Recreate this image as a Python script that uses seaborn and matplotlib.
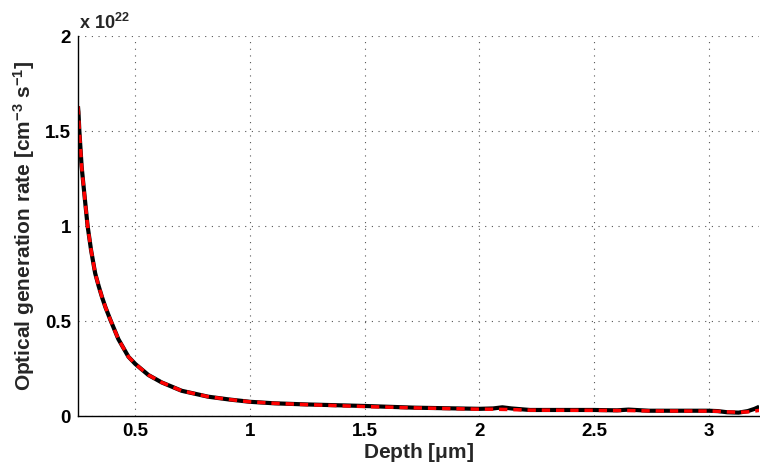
import numpy as np
import pandas as pd
import matplotlib
matplotlib.use("Agg")
import matplotlib.pyplot as plt
from matplotlib.ticker import MultipleLocator
import seaborn as sns

# Depth samples [um] and optical generation rate in units of 1e22 cm^-3 s^-1
depth = [0.250, 0.252, 0.256, 0.266, 0.281, 0.292, 0.307, 0.325, 0.340, 0.355,
         0.370, 0.390, 0.426, 0.470, 0.500, 0.557, 0.615, 0.702, 0.817, 0.910,
         1.000, 1.107, 1.250, 1.500, 1.720, 2.000, 2.060, 2.100, 2.140, 2.220,
         2.500, 2.600, 2.650, 2.740, 3.000, 3.040, 3.080, 3.130, 3.170, 3.200,
         3.220]
rate_full = [1.63, 1.60, 1.50, 1.312, 1.130, 1.00, 0.874, 0.751, 0.685, 0.625,
             0.572, 0.510, 0.405, 0.312, 0.274, 0.216, 0.177, 0.133, 0.102, 0.087,
             0.075, 0.067, 0.061, 0.053, 0.044, 0.038, 0.040, 0.046, 0.040, 0.032,
             0.032, 0.030, 0.034, 0.028, 0.028, 0.026, 0.020, 0.018, 0.026, 0.038,
             0.049]
rate_approx = [1.63, 1.60, 1.50, 1.312, 1.130, 1.00, 0.874, 0.751, 0.685, 0.625,
               0.572, 0.510, 0.405, 0.312, 0.274, 0.216, 0.177, 0.133, 0.102, 0.087,
               0.075, 0.067, 0.060, 0.050, 0.043, 0.036, 0.036, 0.035, 0.034, 0.031,
               0.030, 0.029, 0.029, 0.027, 0.026, 0.025, 0.022, 0.020, 0.022, 0.026,
               0.030]

x_ticks = [0.5, 1, 1.5, 2, 2.5, 3]
y_ticks = [0, 0.5, 1, 1.5, 2]
y_tick_labels = ["0", "0.5", "1", "1.5", "2"]

df = pd.DataFrame({"depth": depth, "full": rate_full, "approx": rate_approx})

sns.set_theme(style="white")
plt.rcParams["font.family"] = ["Liberation Sans", "DejaVu Sans"]
plt.rcParams["font.weight"] = "bold"
plt.rcParams["mathtext.fontset"] = "custom"
plt.rcParams["mathtext.rm"] = "Liberation Sans:bold"
plt.rcParams["mathtext.default"] = "rm"

fig = plt.figure(figsize=(7.6, 4.68), dpi=100)
ax = fig.add_axes([0.1026, 0.111, 0.8964, 0.812])

sns.lineplot(data=df, x="depth", y="full", ax=ax, color="black", lw=3.0,
             solid_capstyle="butt", solid_joinstyle="round")
sns.lineplot(data=df, x="depth", y="approx", ax=ax, color="#ff0000", lw=2.5,
             linestyle=(0, (2.4, 1.7)), dash_capstyle="butt")

ax.set_xlim(0.25, 3.22)
ax.set_ylim(0, 2)
ax.set_xticks(x_ticks)
ax.set_xticklabels([f"{t:g}" for t in x_ticks])
ax.set_yticks(y_ticks)
ax.set_yticklabels(y_tick_labels)
ax.xaxis.set_minor_locator(MultipleLocator(0.025))

ax.grid(True, which="major", linestyle=(0, (1, 5)), color="#555555", lw=0.8)
for s in ("top", "right"):
    ax.spines[s].set_visible(False)
for s in ("left", "bottom"):
    ax.spines[s].set_color("black")
    ax.spines[s].set_linewidth(1.0)

ax.tick_params(axis="both", which="major", direction="in", length=5, width=0.8,
               labelsize=13.5, colors="black", pad=5)
ax.tick_params(axis="x", which="minor", direction="in", length=2.5, width=0.6,
               color="#555555")
for lab in ax.get_xticklabels() + ax.get_yticklabels():
    lab.set_fontweight("bold")

ax.set_xlabel(r"Depth [$\mathrm{\mu}$m]", fontsize=15, fontweight="bold", labelpad=1)
ax.set_ylabel(r"Optical generation rate [cm$^{-3}$ s$^{-1}$]", fontsize=15,
              fontweight="bold", labelpad=6)

fig.text(0.104, 0.938, r"x 10$^{22}$", fontsize=13, fontweight="bold",
         ha="left", va="baseline")

fig.savefig("out.png", dpi=100)
